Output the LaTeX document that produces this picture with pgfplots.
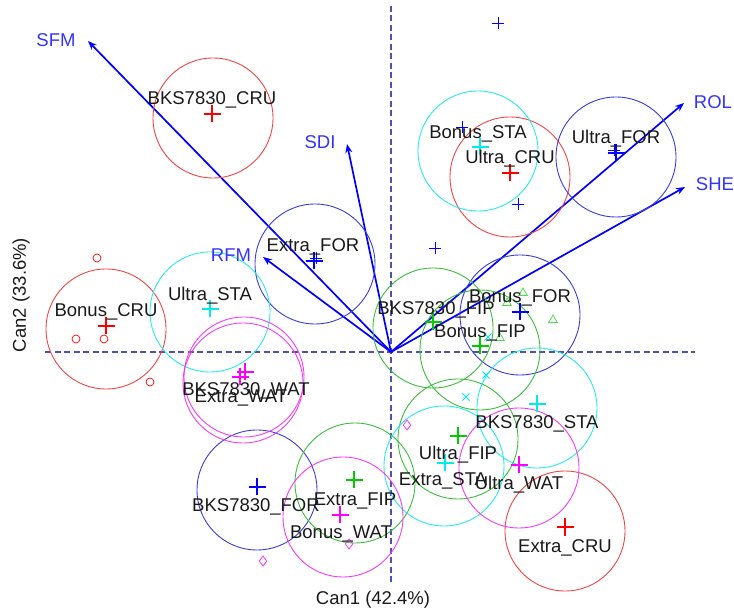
\documentclass[border=0pt]{standalone}
\usepackage{fontspec}
\setmainfont{Liberation Sans}
\usepackage{pgfplots}
\pgfplotsset{compat=1.18}
\usetikzlibrary{arrows.meta}
\definecolor{cred}{RGB}{255,0,0}
\definecolor{cblue}{RGB}{0,0,255}
\definecolor{cgreen}{RGB}{0,205,0}
\definecolor{ccyan}{RGB}{0,235,235}
\definecolor{cmag}{RGB}{255,0,255}
\definecolor{ringred}{RGB}{240,70,70}
\definecolor{ringblue}{RGB}{60,60,220}
\definecolor{ringgreen}{RGB}{60,190,60}
\definecolor{ringcyan}{RGB}{40,235,235}
\definecolor{ringmag}{RGB}{245,60,245}
\definecolor{varblue}{RGB}{50,50,255}
\definecolor{dashcol}{RGB}{80,80,175}
\definecolor{txt}{RGB}{25,25,25}
\newcommand{\bigf}{\fontsize{18.5}{21}\selectfont}
\begin{document}
\begin{tikzpicture}
\begin{axis}[x=1pt, y=1pt, xmin=-391, xmax=343, ymin=-259, ymax=352,
  hide axis, clip=false]
% reference lines
\addplot[dashcol, line width=1.3pt, dash pattern=on 6pt off 3.5pt] coordinates {(-346,0) (304,0)};
\addplot[dashcol, line width=1.3pt, dash pattern=on 6pt off 3.5pt] coordinates {(0,346) (0,-233)};
% circles (radius 60)
\addplot[only marks, mark=o, mark size=60, ringred, mark options={line width=0.9pt}] coordinates {
(-178,234) (-285,23) (174,-179) (119,175)};
\addplot[only marks, mark=o, mark size=60, ringblue, mark options={line width=0.9pt}] coordinates {
(-76,88) (-134,-138) (129,37) (225,195)};
\addplot[only marks, mark=o, mark size=60, ringgreen, mark options={line width=0.9pt}] coordinates {
(-36,-131) (67,-87) (42,24) (89,2)};
\addplot[only marks, mark=o, mark size=60, ringcyan, mark options={line width=0.9pt}] coordinates {
(-181,40) (53,-114) (146,-56) (87,201)};
\addplot[only marks, mark=o, mark size=60, ringmag, mark options={line width=0.9pt}] coordinates {
(-147,-25) (-148,-31) (-48,-165) (128,-116)};
% observations
\addplot[only marks, mark=o, mark size=4, cred, mark options={line width=0.7pt}] coordinates {
(-294,94) (-315,13) (-287,13) (-241,-30)};
\addplot[only marks, mark=+, mark size=6, cblue, mark options={line width=0.8pt}] coordinates {
(107,329) (71,225) (127,148) (44,104) (223,202) (-75,94)};
\addplot[only marks, mark=triangle, mark size=5, cgreen!70!white, mark options={line width=0.8pt}] coordinates {
(132,59) (162,32) (116,49) (109,14)};
\addplot[only marks, mark=x, mark size=5, ccyan, mark options={line width=0.8pt}] coordinates {
(97,15) (95,-23) (75,-45)};
\addplot[only marks, mark=diamond, mark size=5, cmag!80!white, mark options={line width=0.8pt}] coordinates {
(-128,-209) (-42,-192) (16,-73)};
% group centres
\addplot[only marks, mark=+, mark size=8.5, cred, mark options={line width=2.2pt}] coordinates {
(-179,238) (-285,26) (174,-175) (119,179)};
\addplot[only marks, mark=+, mark size=8.5, cblue, mark options={line width=2.2pt}] coordinates {
(-77,91) (-134,-135) (129,40) (225,199)};
\addplot[only marks, mark=+, mark size=8.5, cgreen, mark options={line width=2.2pt}] coordinates {
(-37,-128) (67,-84) (42,30) (89,6)};
\addplot[only marks, mark=+, mark size=8.5, ccyan, mark options={line width=2.2pt}] coordinates {
(-181,43) (54,-111) (146,-52) (89,205)};
\addplot[only marks, mark=+, mark size=8.5, cmag, mark options={line width=2.2pt}] coordinates {
(-146,-20) (-151,-25) (-51,-163) (128,-113)};
% structure vectors
\addplot[cblue, line width=1.7pt, -{Stealth[length=9pt,width=7pt]}] coordinates {(0,0) (-303,311)};
\addplot[cblue, line width=1.7pt, -{Stealth[length=9pt,width=7pt]}] coordinates {(0,0) (-44,208)};
\addplot[cblue, line width=1.7pt, -{Stealth[length=9pt,width=7pt]}] coordinates {(0,0) (-128,95)};
\addplot[cblue, line width=1.7pt, -{Stealth[length=9pt,width=7pt]}] coordinates {(0,0) (293,249)};
\addplot[cblue, line width=1.7pt, -{Stealth[length=9pt,width=7pt]}] coordinates {(0,0) (294,165)};
% variable labels
\addplot[only marks, mark=none, nodes near coords, point meta=explicit symbolic,
  nodes near coords style={anchor=center, text=varblue, inner sep=0pt, font=\bigf}] coordinates {
(-335,312) [SFM] (-71,210) [SDI] (-160,97) [RFM] (322,250) [ROL] (324,168) [SHE]};
% group labels
\addplot[only marks, mark=none, nodes near coords, point meta=explicit symbolic,
  nodes near coords style={anchor=center, text=txt, inner sep=0pt, font=\bigf}] coordinates {
(-179,252) [BKS7830\_CRU]
(-78,105) [Extra\_FOR]
(-181,56) [Ultra\_STA]
(-285,40) [Bonus\_CRU]
(-145,-39) [BKS7830\_WAT]
(-150,-46) [Extra\_WAT]
(-135,-155) [BKS7830\_FOR]
(-36,-149) [Extra\_FIP]
(-50,-182) [Bonus\_WAT]
(67,-103) [Ultra\_FIP]
(52,-129) [Extra\_STA]
(146,-72) [BKS7830\_STA]
(128,-133) [Ultra\_WAT]
(174,-196) [Extra\_CRU]
(45,42) [BKS7830\_FIP]
(89,19) [Bonus\_FIP]
(129,54) [Bonus\_FOR]
(87,218) [Bonus\_STA]
(119,193) [Ultra\_CRU]
(225,213) [Ultra\_FOR]};
% axis titles
\node[text=txt, anchor=center, font=\bigf] at (axis cs:-18,-248) {Can1 (42.4\%)};
\node[text=txt, anchor=center, rotate=90, font=\bigf] at (axis cs:-370,57) {Can2 (33.6\%)};
\end{axis}
\pgfresetboundingbox
\useasboundingbox (current axis.south west) rectangle (current axis.north east);
\end{tikzpicture}
\end{document}
